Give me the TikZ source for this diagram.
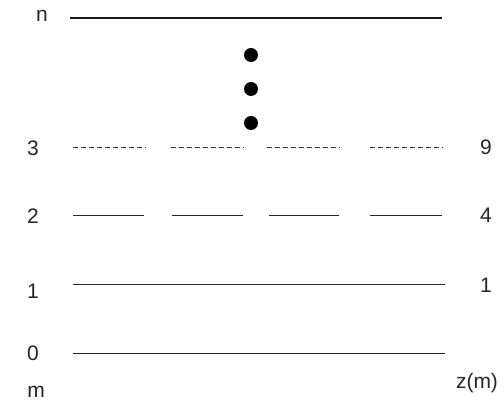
\documentclass[tikz,border=0pt]{standalone}
\usepackage{fontspec}
\setmainfont{Liberation Sans}
\begin{document}
\begin{tikzpicture}[x=1pt,y=-1pt,
  lab/.style={inner sep=0pt,text=black!85,font=\fontsize{21}{24}\selectfont},
  lvl/.style={line width=0.9pt,black!85},
  dotted3/.style={line width=0.8pt,black!80,dash pattern=on 4.5pt off 3.5pt},
  dotmark/.style={circle,fill=black,inner sep=0pt,minimum size=14pt}]
\useasboundingbox (0,0) rectangle (504,403);
% n level
\coordinate (nL) at (70,18); \coordinate (nR) at (442,18);
\draw[line width=1.6pt,black!90] (nL) -- (nR);
\node[lab] (ln) at (42,16) {n};
% dots
\node[dotmark] (d1) at (251,55) {};
\node[dotmark] (d2) at (251,89) {};
\node[dotmark] (d3) at (251,123) {};
% level 3
\foreach \a/\b [count=\i] in {73/146,171/244,267/340,370/443}{
  \coordinate (t\i a) at (\a,147); \coordinate (t\i b) at (\b,147);
  \draw[dotted3] (t\i a) -- (t\i b);}
\node[lab] (l3) at (33,148) {3};
\node[lab] (r9) at (486,147) {9};
% level 2
\foreach \a/\b [count=\i] in {73/144,172/243,269/339,370/442}{
  \coordinate (s\i a) at (\a,215); \coordinate (s\i b) at (\b,215);
  \draw[lvl] (s\i a) -- (s\i b);}
\node[lab] (l2) at (33,216) {2};
\node[lab] (r4) at (486,215) {4};
% level 1
\coordinate (oL) at (73,284); \coordinate (oR) at (445,284);
\draw[lvl] (oL) -- (oR);
\node[lab] (l1) at (33,291) {1};
\node[lab] (r1) at (486,285) {1};
% level 0
\coordinate (zL) at (73,353); \coordinate (zR) at (445,353);
\draw[lvl] (zL) -- (zR);
\node[lab] (l0) at (33,353) {0};
\node[lab] (lm) at (36,392) {m};
\node[lab] (lz) at (477,383) {z(m)};
\end{tikzpicture}
\end{document}
